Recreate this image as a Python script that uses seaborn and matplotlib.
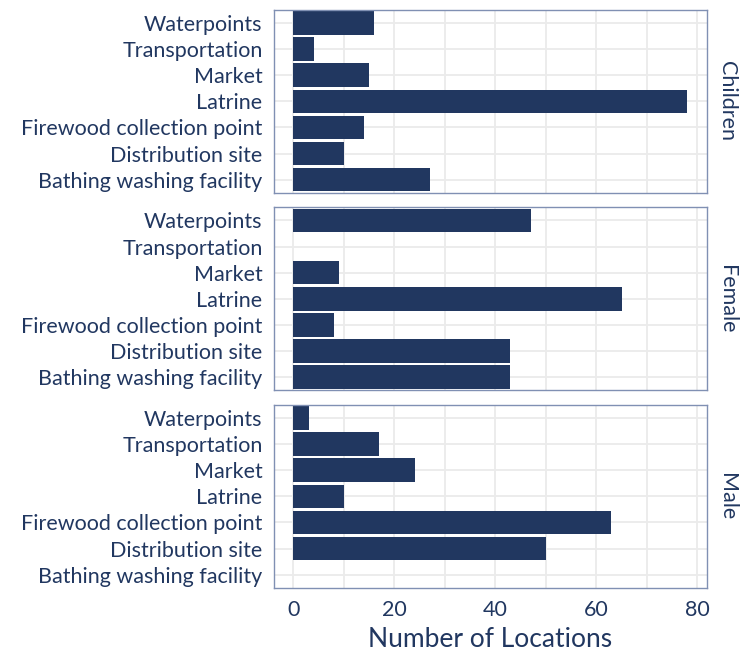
import pandas as pd
import matplotlib.pyplot as plt
import seaborn as sns

# categories, top to bottom
places = ['Waterpoints', 'Transportation', 'Market', 'Latrine',
          'Firewood collection point', 'Distribution site',
          'Bathing washing facility']
groups = ['Children', 'Female', 'Male']

children = [16, 4, 15, 78, 14, 10, 27]
female = [47, 0, 9, 65, 8, 43, 43]
male = [3, 17, 24, 10, 63, 50, 0]

df = pd.DataFrame({
    'place': places * 3,
    'group': [g for g in groups for _ in places],
    'count': children + female + male,
})

navy = '#213760'
sns.set_theme(style='whitegrid')
plt.rcParams['font.family'] = ['Lato', 'DejaVu Sans']

fig, axes = plt.subplots(3, 1, figsize=(7.52, 6.56), dpi=100, sharex=True)
fig.subplots_adjust(left=0.364, right=0.94, top=0.985, bottom=0.104, hspace=0.08)

for ax, g in zip(axes, groups):
    sub = df[df['group'] == g]
    sns.barplot(data=sub, y='place', x='count', order=places, color=navy,
                orient='h', width=0.9, linewidth=0, saturation=1, ax=ax)
    ax.set_xlim(-3.9, 81.9)
    ax.set_xticks([0, 20, 40, 60, 80])
    ax.set_xticks([10, 30, 50, 70], minor=True)
    ax.grid(True, which='both', color='#ebebeb', linewidth=1.3)
    ax.set_axisbelow(True)
    ax.set_ylabel('')
    ax.set_xlabel('')
    ax.tick_params(axis='y', length=0, labelsize=15.5, labelcolor=navy, pad=8)
    ax.tick_params(axis='x', length=0, labelsize=15.5, labelcolor=navy, pad=9)
    for s in ax.spines.values():
        s.set_visible(True)
        s.set_color('#8090b3')
        s.set_linewidth(1)
    ax.text(1.047, 0.5, g, transform=ax.transAxes, rotation=-90,
            ha='center', va='center', fontsize=15.5, color=navy)

axes[-1].set_xlabel('Number of Locations', fontsize=19, color=navy, labelpad=5)

plt.savefig('out.png', dpi=100)
